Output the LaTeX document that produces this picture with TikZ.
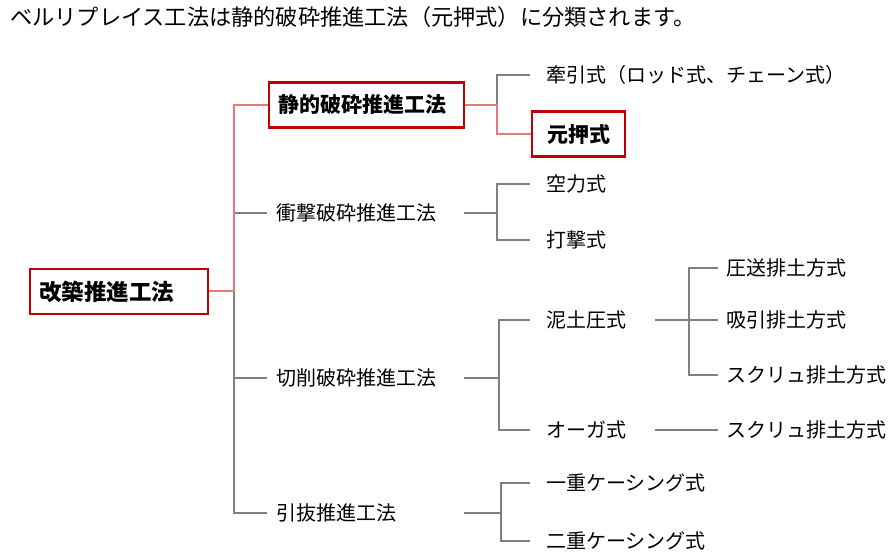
\documentclass[tikz,border=0pt]{standalone}
\usepackage{fontspec}
\usepackage{xcolor}
\usepackage{tikz}
\newfontfamily\jpfont{Noto Sans CJK JP}
\definecolor{boxred}{HTML}{C00000}
\definecolor{linkred}{HTML}{E07C7C}
\definecolor{linkgray}{HTML}{808080}

\begin{document}
\begin{tikzpicture}[x=1pt, y=-1pt,
    keybox/.style={rectangle, draw=boxred, line width=2.2pt, fill=white, minimum height=45pt, inner xsep=9pt, anchor=west, align=left, font=\jpfont\fontsize{21}{25}\selectfont\bfseries},
    method/.style={rectangle, inner xsep=9pt, text width=179pt, anchor=west, align=left, font=\jpfont\fontsize{20}{24}\selectfont},
    variant/.style={rectangle, inner xsep=16pt, anchor=west, align=left, font=\jpfont\fontsize{20}{24}\selectfont},
    subvariant/.style={rectangle, inner xsep=8pt, anchor=west, align=left, font=\jpfont\fontsize{20}{24}\selectfont},
    grayline/.style={draw=linkgray, line width=2pt},
    redline/.style={draw=linkred, line width=2pt}
]
\useasboundingbox (0,0) rectangle (894,553);

% Title
\node[anchor=west, inner sep=0pt, font=\jpfont\fontsize{22.2}{26}\selectfont] (title) at (10,17) {ベルリプレイス工法は静的破砕推進工法（元押式）に分類されます。};

% Methods
\node[keybox, text width=160pt, font=\jpfont\fontsize{22.5}{27}\selectfont\bfseries] (kaichiku) at (29,291.5) {改築推進工法};
\node[keybox, text width=177pt] (seiteki) at (268,105) {静的破砕推進工法};
\node[method] (shogeki) at (267,213) {衝撃破砕推進工法};
\node[method] (sessaku) at (267,378) {切削破砕推進工法};
\node[method] (hikinuki) at (267,513) {引抜推進工法};

% Variants
\node[variant] (kenin) at (530,75) {牽引式（ロッド式、チェーン式）};
\node[keybox, inner xsep=15pt] (motooshi) at (531,134) {元押式};
\node[variant] (kuuriki) at (530,184) {空力式};
\node[variant] (dageki) at (530,240) {打撃式};
\node[variant, text width=93pt] (deido) at (530,320) {泥土圧式};
\node[variant, text width=93pt] (auger) at (530,430) {オーガ式};
\node[variant] (ichiju) at (530,483) {一重ケーシング式};
\node[variant] (niju) at (530,541) {二重ケーシング式};

% Sub-variants
\node[subvariant] (assou) at (718,268) {圧送排土方式};
\node[subvariant] (kyuin) at (718,320) {吸引排土方式};
\node[subvariant] (screwa) at (718,375) {スクリュ排土方式};
\node[subvariant] (screwb) at (718,430) {スクリュ排土方式};

% Junctions
\coordinate (j0) at (234,291.5);
\coordinate (j1) at (497,105);
\coordinate (j2) at (497,213);
\coordinate (j3) at (499,378);
\coordinate (j4) at (501,513);
\coordinate (j5) at (689,320);

% Connections
\draw[grayline] (j0) |- (hikinuki.west);
\draw[grayline] (j0 |- shogeki) -- (shogeki.west);
\draw[grayline] (j0 |- sessaku) -- (sessaku.west);
\draw[redline] (kaichiku.east) -- (j0) |- (seiteki.west);

\draw[grayline] (kenin.west) -| (j1);
\draw[redline] (seiteki.east) -- (j1) |- (motooshi.west);

\draw[grayline] (shogeki.east) -- (j2);
\draw[grayline] (kuuriki.west) -| (j2) |- (dageki.west);

\draw[grayline] (sessaku.east) -- (j3);
\draw[grayline] (deido.west) -| (j3) |- (auger.west);

\draw[grayline] (hikinuki.east) -- (j4);
\draw[grayline] (ichiju.west) -| (j4) |- (niju.west);

\draw[grayline] (deido.east) -- (j5) -- (kyuin.west);
\draw[grayline] (assou.west) -| (j5) |- (screwa.west);
\draw[grayline] (auger.east) -- (screwb.west);

\end{tikzpicture}
\end{document}
